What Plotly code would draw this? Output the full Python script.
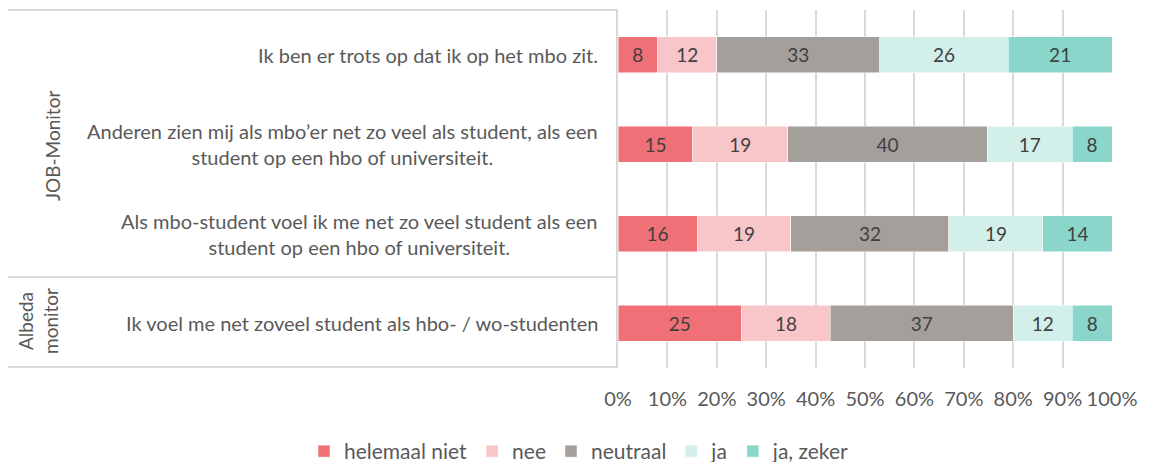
import plotly.graph_objects as go

items = [
    "Ik ben er trots op dat ik op het mbo zit.",
    "Anderen zien mij als mbo’er net zo veel als student, als een<br>student op een hbo of universiteit.",
    "Als mbo-student voel ik me net zo veel student als een<br>student op een hbo of universiteit.",
    "Ik voel me net zoveel student als hbo- / wo-studenten",
]
item_ids = ["q1", "q2", "q3", "q4"]
groups = ["JOB-Monitor", "Albeda<br>monitor"]
series_names = ["helemaal niet", "nee", "neutraal", "ja", "ja, zeker"]
helemaal_niet = [8, 15, 16, 25]
nee = [12, 19, 19, 18]
neutraal = [33, 40, 32, 37]
ja = [26, 17, 19, 12]
ja_zeker = [21, 8, 14, 8]
series_values = [helemaal_niet, nee, neutraal, ja, ja_zeker]
colors = ["#F07077", "#F8C5C8", "#A59F9B", "#D2EFEA", "#8AD6CB"]
x_ticks = list(range(0, 101, 10))
x_tick_labels = [f"{v}%" for v in x_ticks]

FONT = "Lato, 'Open Sans', sans-serif"
fig = go.Figure()
for name, vals, col in zip(series_names, series_values, colors):
    fig.add_trace(go.Bar(
        y=item_ids, x=vals, name=name, orientation="h",
        marker=dict(color=col, line=dict(width=0.5, color="white")),
        text=[str(v) for v in vals], textposition="inside",
        insidetextanchor="middle", textangle=0,
        textfont=dict(size=19, color="#404040", family=FONT),
    ))

# page has an 8px body margin; work in page pixels and shift
OFF = 8
W, H = 1152 - OFF, 462 - OFF
L = 618 - OFF
R = W - (1112 - OFF)
T = 10 - OFF
B = H - (368 - OFF)
pw = W - L - R
ph = H - T - B

def px_x(p):
    return (p - OFF - L) / pw

def px_y(p):
    return 1 - (p - OFF - T) / ph

fig.update_layout(
    width=W, height=H,
    barmode="stack", barnorm="percent", bargap=0.6,
    plot_bgcolor="white", paper_bgcolor="white",
    margin=dict(l=L, r=R, t=T, b=B, autoexpand=False),
    font=dict(family=FONT, color="#595959", size=19),
    uniformtext=dict(minsize=19, mode="show"),
    legend=dict(orientation="h", x=px_x(304), xref="paper", xanchor="left",
                y=px_y(431), yref="paper", yanchor="top",
                font=dict(size=21, color="#595959"), traceorder="normal",
                itemwidth=30),
    xaxis=dict(range=[0, 100], tickvals=x_ticks, ticktext=x_tick_labels,
               showgrid=True, gridcolor="#D9D9D9", gridwidth=2,
               zeroline=False, showline=False, ticks="",
               ticklabelstandoff=17, tickfont=dict(size=20, color="#595959")),
    yaxis=dict(categoryorder="array", categoryarray=item_ids, autorange="reversed",
               showticklabels=False, showgrid=False, zeroline=False,
               showline=True, linecolor="#D9D9D9", linewidth=2, ticks=""),
)

for it, iid in zip(items, item_ids):
    fig.add_annotation(text=it, xref="paper", yref="y", x=px_x(600), y=iid,
                       xanchor="right", yanchor="middle", align="center",
                       showarrow=False, font=dict(size=20, color="#595959"))

fig.add_annotation(text=groups[0], xref="paper", yref="paper", x=px_x(52),
                   y=px_y(146), textangle=-90, showarrow=False,
                   xanchor="center", yanchor="middle",
                   font=dict(size=19, color="#595959"))
fig.add_annotation(text=groups[1], xref="paper", yref="paper", x=px_x(38),
                   y=px_y(321), textangle=-90, showarrow=False,
                   xanchor="center", yanchor="middle", align="center",
                   font=dict(size=19, color="#595959"))

for yy in [10, 277, 367]:
    fig.add_shape(type="line", xref="paper", yref="paper",
                  x0=px_x(8), x1=0, y0=px_y(yy), y1=px_y(yy),
                  line=dict(color="#D9D9D9", width=2))

fig.write_html("out.html")
